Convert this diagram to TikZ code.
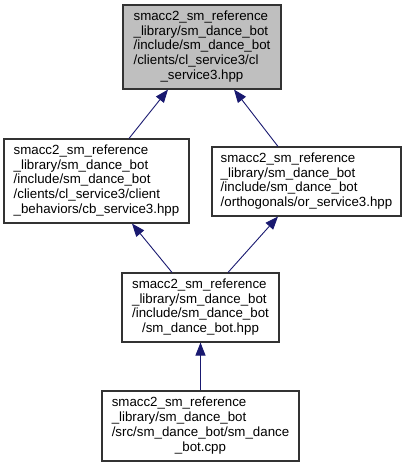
\documentclass[tikz,border=0pt]{standalone}
\usepackage{fontspec}
\setmainfont{Liberation Sans}
\usetikzlibrary{arrows.meta}
\newcommand{\lbl}[2]{{\setlength{\tabcolsep}{0pt}\renewcommand{\arraystretch}{1}\begin{tabular}{l}#1\\\multicolumn{1}{c}{#2}\end{tabular}}}
\begin{document}
\begin{tikzpicture}[x=1pt,y=-1pt,
  box/.style={draw=black!80,line width=1.1pt,inner sep=0pt,
    font=\fontsize{13.3}{14.8}\selectfont,anchor=center},
  edge/.style={draw=midnightblue,line width=0.9pt,
    -{Triangle[length=13pt,width=10pt]}}]
\definecolor{midnightblue}{HTML}{191970}
\useasboundingbox (0,0) rectangle (405,467);
\node[box,fill=black!25,minimum width=158pt,minimum height=84pt] (top) at (202,47)
  {\lbl{smacc2\_sm\_reference\\\_library/sm\_dance\_bot\\/include/sm\_dance\_bot\\/clients/cl\_service3/cl}{\_service3.hpp}};
\node[box,minimum width=185pt,minimum height=84pt] (cb) at (96.5,181)
  {\lbl{smacc2\_sm\_reference\\\_library/sm\_dance\_bot\\/include/sm\_dance\_bot\\/clients/cl\_service3/client}{\_behaviors/cb\_service3.hpp}};
\node[box,minimum width=189pt,minimum height=69pt] (or) at (306.5,181.5)
  {\lbl{smacc2\_sm\_reference\\\_library/sm\_dance\_bot\\/include/sm\_dance\_bot}{/orthogonals/or\_service3.hpp}};
\node[box,minimum width=157pt,minimum height=69pt] (hpp) at (200.5,307.5)
  {\lbl{smacc2\_sm\_reference\\\_library/sm\_dance\_bot\\/include/sm\_dance\_bot}{/sm\_dance\_bot.hpp}};
\node[box,minimum width=197pt,minimum height=70pt] (cpp) at (200.5,426)
  {\lbl{smacc2\_sm\_reference\\\_library/sm\_dance\_bot\\/src/sm\_dance\_bot/sm\_dance}{\_bot.cpp}};
\draw[edge] ([xshift=32.5pt]cb.north) -- ([xshift=-34pt]top.south);
\draw[edge] ([xshift=-28.5pt]or.north) -- ([xshift=32pt]top.south);
\draw[edge] ([xshift=-28.5pt]hpp.north) -- ([xshift=35.5pt]cb.south);
\draw[edge] ([xshift=27.5pt]hpp.north) -- ([xshift=-28.5pt]or.south);
\draw[edge] (cpp.north) -- (hpp.south);
\end{tikzpicture}
\end{document}
